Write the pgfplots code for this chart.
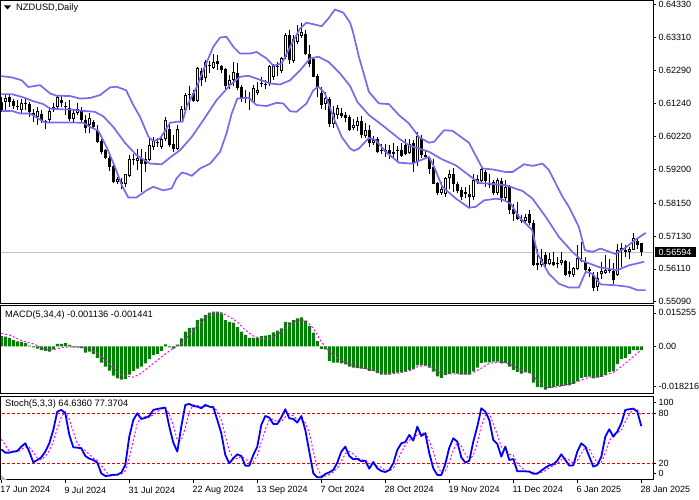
\documentclass[border=0pt]{standalone}
\usepackage{fontspec}
\setmainfont{Liberation Sans}
\usepackage{pgfplots}
\usepackage{pgfplotstable}
\pgfplotsset{compat=1.18}
\definecolor{band}{RGB}{123,104,238}
\definecolor{hist}{RGB}{0,128,0}
\definecolor{priceline}{RGB}{192,192,192}
\definecolor{level}{RGB}{225,0,0}
\definecolor{signal}{RGB}{255,0,255}
\newcommand{\chartfont}{\fontsize{9}{10}\selectfont}
\newcommand{\titlefont}{\fontsize{9.3}{10}\selectfont}

% down (black) candles: i, body bottom, body top, high, low
\pgfplotstableread{
i b t h l
0 .6104 .6130 .6146 .6099
2 .6130 .6146 .6151 .6114
3 .6117 .6132 .6140 .6109
4 .6113 .6117 .6137 .6104
7 .6097 .6123 .6130 .6083
8 .6089 .6094 .6109 .6068
10 .6071 .6092 .6104 .6063
11 .6066 .6071 .6073 .6047
15 .6125 .6135 .6151 .6114
16 .6114 .6117 .6130 .6089
17 .6078 .6112 .6135 .6071
20 .6073 .6106 .6114 .6068
21 .6049 .6075 .6089 .6034
23 .6052 .6066 .6073 .6047
24 .6006 .6042 .6057 .6001
25 .5975 .6009 .6016 .5969
26 .5957 .5980 .5985 .5951
27 .5926 .5957 .5964 .5916
28 .5881 .5930 .5938 .5878
30 .5874 .5881 .5892 .5858
33 .5948 .5951 .5969 .5933
35 .5938 .5954 .5985 .5850
36 .5936 .5951 .5975 .5912
42 .5995 .6047 .6068 .5990
43 .5982 .5998 .6026 .5975
47 .6150 .6153 .6179 .6104
48 .6133 .6156 .6166 .6130
50 .6197 .6225 .6234 .6179
52 .6241 .6244 .6256 .6220
54 .6247 .6256 .6275 .6228
55 .6228 .6241 .6244 .6220
56 .6180 .6231 .6234 .6164
59 .6173 .6220 .6251 .6166
60 .6143 .6175 .6182 .6130
61 .6140 .6146 .6166 .6125
62 .6140 .6142 .6161 .6104
65 .6185 .6189 .6208 .6175
66 .6181 .6184 .6197 .6171
69 .6239 .6242 .6254 .6210
72 .6260 .6337 .6353 .6249
76 .6280 .6340 .6353 .6275
77 .6249 .6280 .6306 .6239
78 .6208 .6262 .6270 .6206
79 .6175 .6210 .6216 .6146
80 .6120 .6158 .6175 .6109
82 .6061 .6140 .6146 .6052
85 .6086 .6094 .6112 .6081
86 .6081 .6089 .6099 .6068
87 .6042 .6083 .6089 .6040
90 .6026 .6071 .6085 .6019
92 .6001 .6044 .6057 .5990
94 .5975 .6016 .6021 .5971
95 .5978 .5980 .5999 .5969
96 .5975 .5980 .5999 .5959
97 .5967 .5980 .5995 .5951
98 .5967 .5973 .6001 .5951
100 .5961 .5980 .6001 .5959
101 .5969 .5995 .6013 .5964
103 .5940 .6003 .6011 .5912
105 .5964 .6019 .6026 .5954
106 .5959 .5964 .5980 .5954
107 .5920 .5954 .5959 .5907
108 .5876 .5926 .5951 .5874
109 .5847 .5878 .5881 .5840
113 .5876 .5907 .5923 .5850
114 .5853 .5876 .5881 .5847
115 .5835 .5855 .5866 .5824
116 .5843 .5850 .5866 .5830
117 .5835 .5843 .5871 .5804
121 .5884 .5912 .5918 .5866
122 .5874 .5876 .5905 .5861
123 .5847 .5881 .5887 .5840
125 .5830 .5884 .5892 .5819
127 .5793 .5866 .5871 .5783
128 .5781 .5798 .5812 .5760
129 .5767 .5781 .5819 .5762
130 .5760 .5764 .5778 .5754
132 .5754 .5781 .5793 .5747
133 .5622 .5754 .5762 .5619
134 .5622 .5628 .5674 .5609
136 .5626 .5653 .5664 .5617
138 .5622 .5633 .5664 .5620
139 .5626 .5628 .5648 .5614
141 .5591 .5635 .5638 .5588
142 .5594 .5604 .5633 .5586
145 .5636 .5640 .5695 .5633
146 .5607 .5633 .5648 .5605
147 .5605 .5610 .5617 .5586
148 .5553 .5591 .5602 .5543
152 .5605 .5612 .5643 .5599
153 .5576 .5605 .5628 .5563
156 .5664 .5669 .5685 .5648
159 .5685 .5698 .5705 .5674
160 .5662 .5690 .5692 .5650
}\downcandles

% up (white) candles
\pgfplotstableread{
i b t h l
1 .6130 .6143 .6151 .6099
5 .6106 .6125 .6140 .6094
6 .6123 .6127 .6140 .6104
9 .6083 .6101 .6114 .6057
12 .6075 .6101 .6114 .6065
13 .6109 .6114 .6125 .6099
14 .6114 .6145 .6151 .6109
18 .6078 .6096 .6104 .6068
19 .6094 .6109 .6125 .6089
22 .6057 .6081 .6096 .6034
29 .5881 .5889 .5897 .5876
31 .5874 .5905 .5907 .5866
32 .5900 .5951 .5964 .5897
34 .5947 .5957 .5985 .5918
37 .5949 .5995 .6013 .5947
38 .5990 .6009 .6021 .5980
39 .6001 .6006 .6019 .5990
40 .5990 .6016 .6026 .5985
41 .6013 .6075 .6083 .6009
44 .5983 .6047 .6057 .5980
45 .6068 .6109 .6117 .6068
46 .6106 .6151 .6156 .6104
49 .6133 .6236 .6239 .6130
51 .6203 .6254 .6260 .6192
53 .6236 .6254 .6280 .6231
57 .6182 .6197 .6213 .6171
58 .6197 .6223 .6254 .6179
63 .6130 .6174 .6182 .6127
64 .6156 .6168 .6192 .6151
67 .6185 .6241 .6244 .6179
68 .6206 .6241 .6249 .6197
70 .6226 .6265 .6270 .6220
71 .6268 .6339 .6344 .6262
73 .6257 .6324 .6337 .6251
74 .6316 .6342 .6368 .6311
75 .6334 .6346 .6376 .6327
81 .6123 .6142 .6161 .6104
83 .6060 .6094 .6117 .6050
84 .6089 .6112 .6120 .6078
88 .6049 .6057 .6078 .6042
89 .6054 .6071 .6083 .6040
91 .6023 .6042 .6063 .6019
93 .6001 .6011 .6023 .5995
99 .5977 .5980 .5992 .5947
102 .5971 .5999 .6016 .5967
104 .5944 .6023 .6037 .5930
110 .5847 .5858 .5881 .5840
111 .5845 .5894 .5897 .5835
112 .5892 .5907 .5918 .5858
118 .5833 .5887 .5907 .5824
119 .5881 .5889 .5902 .5876
120 .5884 .5920 .5923 .5881
124 .5847 .5887 .5892 .5840
126 .5832 .5866 .5887 .5819
131 .5760 .5773 .5783 .5757
135 .5624 .5643 .5674 .5617
137 .5626 .5643 .5659 .5622
140 .5628 .5638 .5664 .5622
143 .5591 .5614 .5617 .5586
144 .5610 .5646 .5685 .5607
149 .5555 .5584 .5602 .5543
150 .5594 .5605 .5633 .5581
151 .5599 .5609 .5653 .5594
154 .5591 .5669 .5688 .5588
155 .5669 .5677 .5690 .5617
157 .5664 .5674 .5679 .5643
158 .5671 .5708 .5724 .5669
}\upcandles

\pgfplotstableread{
i v
0 .0047
1 .0044
2 .0038
3 .0029
4 .0023
5 .0020
6 .0014
7 .0003
8 -.0005
9 -.0011
10 -.0017
11 -.0021
12 -.0024
13 -.0014
14 .0011
15 .0011
16 .0015
17 .0006
18 -.0005
19 -.0005
20 -.0008
21 -.0029
22 -.0024
23 -.0035
24 -.0053
25 -.0074
26 -.0093
27 -.0111
28 -.0134
29 -.0146
30 -.0152
31 -.0149
32 -.0129
33 -.0112
34 -.0102
35 -.0093
36 -.0078
37 -.0059
38 -.0040
39 -.0035
40 -.0021
41 .0009
42 -.0005
43 -.0011
44 .0008
45 .0036
46 .0067
47 .0084
48 .0085
49 .0120
50 .0128
51 .0143
52 .0154
53 .0158
54 .0158
55 .0150
56 .0120
57 .0112
58 .0108
59 .0088
60 .0067
61 .0052
62 .0038
63 .0038
64 .0040
65 .0047
66 .0049
67 .0052
68 .0064
69 .0071
70 .0082
71 .0111
72 .0109
73 .0120
74 .0128
75 .0132
76 .0117
77 .0093
78 .0062
79 .0024
80 -.0012
81 -.0014
82 -.0067
83 -.0074
84 -.0074
85 -.0078
86 -.0082
87 -.0093
88 -.0097
89 -.0100
90 -.0102
91 -.0103
92 -.0112
93 -.0112
94 -.0123
95 -.0129
96 -.0129
97 -.0129
98 -.0123
99 -.0120
100 -.0119
101 -.0116
102 -.0108
103 -.0105
104 -.0087
105 -.0087
106 -.0088
107 -.0097
108 -.0116
109 -.0137
110 -.0144
111 -.0132
112 -.0126
113 -.0123
114 -.0125
115 -.0129
116 -.0129
117 -.0129
118 -.0114
119 -.0097
120 -.0076
121 -.0073
122 -.0073
123 -.0070
124 -.0070
125 -.0078
126 -.0076
127 -.0093
128 -.0108
129 -.0117
130 -.0125
131 -.0119
132 -.0123
133 -.0166
134 -.0185
135 -.0188
136 -.0198
137 -.0190
138 -.0185
139 -.0181
140 -.0181
141 -.0179
142 -.0179
143 -.0172
144 -.0160
145 -.0144
146 -.0140
147 -.0138
148 -.0147
149 -.0143
150 -.0140
151 -.0131
152 -.0117
153 -.0114
154 -.0081
155 -.0058
156 -.0053
157 -.0035
158 -.0018
159 -.0017
160 -.0017
}\macdhist

% stochastic: i, main, signal
\pgfplotstableread{
i v s
0 36.8 48.8
1 32.8 42
2 32.8 34.1
3 34 33.2
4 34.8 33.9
5 40 36.3
6 44 39.6
7 34 39.3
8 21.2 33.1
9 24 26.4
10 27.2 24.1
11 34 28.4
12 44 35.1
13 60 46
14 82 62
15 84 75.3
16 80 82
17 54 72.7
18 39.2 57.7
19 38.8 44
20 38 38.7
21 28.8 35.2
22 25.6 30.8
23 24 26.1
24 20.8 23.5
25 8 17.6
26 4.8 11.2
27 5.2 6
28 6.4 5.5
29 6.4 6
30 8.8 7.2
31 18 11.1
32 52 26.3
33 72 47.3
34 80 68
35 73.2 75.1
36 74.4 75.9
37 76.8 74.8
38 84 78.4
39 85.2 82
40 86 85.1
41 86.8 86
42 64 78.9
43 44.8 65.2
44 34 47.6
45 64 47.6
46 90 62.7
47 91.2 81.7
48 88.8 90
49 88 89.3
50 86 87.6
51 90 88
52 88 88
53 87.2 88.4
54 72 82.4
55 56 71.7
56 30 52.7
57 20 35.3
58 26 25.3
59 30.8 25.6
60 28.8 28.5
61 17.2 25.6
62 17.2 21.1
63 30 21.5
64 40 29.1
65 66 45.3
66 76.8 60.9
67 74.8 72.5
68 67.2 72.9
69 67.2 69.7
70 75.2 69.9
71 84.8 75.7
72 74 78
73 73.2 77.3
74 68.8 72
75 76.8 72.9
76 60 68.5
77 34 56.9
78 8 34
79 3.2 15.1
80 3.2 4.8
81 7.2 4.5
82 9.2 6.5
83 12 9.5
84 20.8 14
85 34 22.3
86 40 31.6
87 28.8 34.3
88 24.8 31.2
89 25.6 26.4
90 22.4 24.3
91 23.2 23.7
92 13.6 19.7
93 21.6 19.5
94 14 16.4
95 10.8 15.5
96 9.6 11.5
97 12 10.8
98 20 13.9
99 36 22.7
100 44 33.3
101 45.6 41.9
102 54 47.9
103 47.2 48.9
104 64 55.1
105 52.8 54.7
106 56 57.6
107 32 46.9
108 14 34
109 6 17.3
110 6 8.7
111 19.2 10.4
112 38.8 21.3
113 50 36
114 46 44.9
115 27.2 41.1
116 20.8 31.3
117 23.2 23.7
118 46 30
119 64 44.4
120 86 65.3
121 82 77.3
122 72 80
123 48 67.3
124 43.2 54.4
125 28 39.7
126 40 37.1
127 24 30.7
128 25.2 29.7
129 10.4 19.9
130 10.4 15.3
131 10.4 10.4
132 10 10.3
133 7.6 9.3
134 7.6 8.4
135 11.2 8.8
136 14.8 11.2
137 17.6 14.5
138 18.8 17.1
139 23.2 19.9
140 30.8 24.3
141 24 26
142 17.2 24
143 17.6 19.6
144 34 22.9
145 44 31.9
146 40 39.3
147 28 37.3
148 16 28
149 18 20.7
150 28 20.7
151 52 32.7
152 60.8 46.9
153 52 54.9
154 58 56.9
155 68 59.3
156 84 70
157 84.8 78.9
158 85.6 84.8
159 82 84.1
160 64.6 77.4
}\stochmain

\pgfplotsset{
  panel/.style={
    scale only axis, width=652pt,
    xmin=-0.075, xmax=162.925,
    axis line style={line width=1pt,black},
    tick style={black,line width=0.7pt},
    tick align=outside, major tick length=3pt,
    xtick pos=bottom, ytick pos=right,
    yticklabel pos=right,
    tick label style={font=\chartfont},
    yticklabel style={anchor=west,inner sep=0pt,xshift=2.5pt},
    xticklabel style={anchor=north west,inner sep=0pt,xshift=-1pt,yshift=-3.5pt},
    scaled y ticks=false,
  },
  wick/.style={draw=none,mark=none,forget plot,
    error bars/.cd, y dir=plus, y explicit, error mark=none,
    error bar style={line width=1pt,black,solid}},
  body/.style={draw=none,mark=none,forget plot,
    error bars/.cd, y dir=plus, y explicit, error mark=none,
    error bar style={line width=3pt,black,solid}},
  hollow/.style={draw=none,mark=none,forget plot,
    error bars/.cd, y dir=plus, y explicit, error mark=none,
    error bar style={line width=1pt,white,solid}},
  bandline/.style={band,line width=1.7pt,mark=none,line join=round,forget plot},
}

\begin{document}
\begin{tikzpicture}[x=1pt,y=1pt]
\path[use as bounding box] (0,0) rectangle (699,500);

% ---------- price panel
\begin{axis}[panel, at={(1pt,196pt)}, anchor=south west, height=303pt,
  ymin=0.55019, ymax=0.64433, xtick=\empty,
  ytick={0.6433,0.6331,0.6229,0.6124,0.6022,0.5920,0.5815,0.5713,0.5611,0.5509},
  yticklabels={0.64330,0.63310,0.62290,0.61240,0.60220,0.59200,0.58150,0.57130,0.56110,0.55090}]
\addplot[priceline,line width=0.8pt,forget plot] coordinates {(-1,0.5662)(163,0.5662)};
\addplot[wick] table[x=i,y=l,y error expr={\thisrow{h}-\thisrow{l}}] {\downcandles};
\addplot[wick] table[x=i,y=l,y error expr={\thisrow{h}-\thisrow{l}}] {\upcandles};
\addplot[body] table[x=i,y=b,y error expr={\thisrow{t}-\thisrow{b}}] {\downcandles};
\addplot[body] table[x=i,y=b,y error expr={\thisrow{t}-\thisrow{b}}] {\upcandles};
\addplot[hollow] table[x=i,y expr={\thisrow{b}+0.00031},y error expr={max(\thisrow{t}-\thisrow{b}-0.00062,0)}] {\upcandles};
% upper band
\addplot[bandline] coordinates {(0,.6210)(2.6,.6206)(5.1,.6197)(6.75,.6176)(9.7,.6182)(12.2,.6156)(13.8,.6149)(17.2,.6148)(19.7,.6140)(22.2,.6142)(24.7,.6151)(27.2,.6175)(28.8,.6177)(31.2,.6166)(33,.6120)(34.7,.6083)(36.8,.6021)(38,.6008)(39.7,.6016)(42.2,.6065)(43.8,.6068)(45.3,.6068)(46.3,.6114)(48.8,.6175)(50.5,.6228)(53,.6301)(54.7,.6330)(56.3,.6332)(58,.6301)(59.7,.6280)(62.2,.6280)(63.8,.6285)(66.3,.6265)(68,.6242)(70.1,.6249)(72.2,.6301)(74.7,.6358)(76.3,.6376)(80.1,.6365)(81.8,.6389)(83.4,.6417)(85.5,.6407)(87.2,.6376)(87.9,.6348)(89.4,.6270)(91.9,.6161)(94.4,.6125)(96.9,.6123)(99.4,.6089)(101.9,.6063)(104.4,.6021)(106.9,.6003)(108.2,.6006)(110.7,.6042)(112.8,.6040)(116.9,.6003)(120.3,.5923)(122.8,.5920)(126.1,.5912)(127.8,.5912)(130.7,.5936)(132.8,.5931)(135.3,.5938)(136.9,.5918)(140.3,.5835)(141.9,.5804)(144.4,.5741)(145.9,.5669)(147.8,.5664)(149.8,.5674)(153.6,.5657)(155.7,.5674)(158.6,.5702)(161.1,.5723)};
% middle band
\addplot[bandline] coordinates {(0,.6154)(2.6,.6154)(5.5,.6144)(8,.6132)(10.5,.6123)(12.2,.6109)(14.3,.6107)(17.2,.6106)(20.5,.6102)(23.4,.6099)(25.5,.6085)(28,.6052)(30.9,.6003)(33.8,.5964)(37.2,.5938)(40.1,.5936)(42.2,.5957)(44.7,.5980)(47.6,.6021)(50.5,.6073)(53.8,.6135)(57.2,.6182)(59.7,.6208)(61.8,.6211)(64.3,.6200)(67.2,.6187)(69.7,.6184)(72.2,.6197)(74.7,.6228)(77.2,.6265)(79.3,.6270)(81.8,.6254)(84.7,.6218)(87.2,.6179)(89,.6130)(91.9,.6089)(95.3,.6057)(99.4,.6016)(101.9,.5995)(106.9,.5975)(110.25,.5951)(113.6,.5933)(116.9,.5902)(119.4,.5878)(123.6,.5874)(126.1,.5871)(130.3,.5853)(132.75,.5830)(136.1,.5773)(139.4,.5710)(142.75,.5664)(145.25,.5636)(149.8,.5615)(154,.5607)(156.9,.5622)(160.7,.5633)};
% lower band
\addplot[bandline] coordinates {(0,.6101)(2.6,.6102)(4.7,.6094)(7.2,.6094)(9.25,.6078)(10.9,.6066)(16.3,.6066)(20.5,.6065)(22.2,.6052)(24.25,.6040)(26.3,.5990)(28.4,.5928)(30.1,.5871)(31.75,.5833)(33.8,.5833)(36.3,.5855)(38,.5866)(40.5,.5855)(42.6,.5861)(43.8,.5892)(45.1,.5910)(46.3,.5907)(47.6,.5900)(49.7,.5923)(52.2,.5938)(54.7,.5975)(56.3,.6032)(57.6,.6094)(59,.6140)(61.8,.6143)(63.8,.6120)(66.3,.6117)(68.8,.6127)(70.5,.6125)(72.2,.6101)(73.8,.6099)(76.3,.6125)(78,.6166)(79.3,.6177)(80.9,.6156)(83,.6083)(85.1,.6021)(87.2,.5985)(88.2,.5978)(89.4,.5985)(91.9,.6018)(93.6,.6011)(96.1,.5975)(99.4,.5941)(102.75,.5938)(106.9,.5959)(108.2,.5928)(110.25,.5866)(113.6,.5830)(116.9,.5801)(118.6,.5804)(120.7,.5824)(123.6,.5829)(125.25,.5827)(127.3,.5814)(129.4,.5773)(132.75,.5731)(134,.5659)(136.9,.5596)(139.4,.5565)(141.9,.5553)(144.4,.5553)(146.1,.5602)(147.75,.5596)(149.8,.5563)(153.6,.5560)(156.9,.5555)(159,.5545)(161.1,.5545)};
\end{axis}

% ---------- MACD panel
\begin{axis}[panel, at={(1pt,106.7pt)}, anchor=south west, height=87.3pt,
  ymin=-0.02146, ymax=0.0184, xtick=\empty,
  ytick={0.015255,0,-0.018216}, yticklabels={0.015255,0.00,-0.018216}]
\addplot[ybar,bar width=3pt,bar shift=0pt,fill=hist,draw=none,forget plot] table[x=i,y=v] {\macdhist};
\addplot[signal,line width=1pt,dash pattern=on 2pt off 2pt,forget plot] coordinates {(0,.0059)(2,.0052)(5,.0026)(8,.0011)(11,-.0014)(13,-.0017)(15,-.0005)(18,-.0002)(20,-.0005)(22,-.0011)(24,-.0032)(26,-.0062)(28,-.0100)(30,-.0131)(33,-.0141)(35,-.0123)(38,-.0078)(41,-.0035)(43,-.0009)(45,.0011)(47,.0052)(49,.0093)(51,.0128)(53,.0154)(55,.0154)(57,.0135)(59,.0112)(61,.0074)(63,.0047)(65,.0035)(67,.0036)(69,.0052)(71,.0082)(74,.0120)(76,.0120)(78,.0082)(80,.0021)(82,-.0024)(84,-.0055)(87,-.0082)(90,-.0097)(93,-.0111)(96,-.0126)(99,-.0123)(102,-.0112)(104,-.0093)(106,-.0088)(108,-.0100)(110,-.0126)(113,-.0126)(116,-.0126)(118,-.0120)(120,-.0100)(122,-.0078)(125,-.0071)(127,-.0081)(130,-.0108)(132,-.0120)(134,-.0154)(136,-.0187)(138,-.0188)(141,-.0178)(144,-.0161)(147,-.0141)(150,-.0138)(153,-.0120)(155,-.0093)(158,-.0047)(160,-.0016)};
\end{axis}

% ---------- Stochastic panel
\begin{axis}[panel, at={(1pt,20pt)}, anchor=south west, height=83.4pt,
  ymin=0, ymax=100,
  ytick={93,80,20,7.6}, yticklabels={100,80,20,0},
  xtick={0,16,32,48,64,80,96,112,128,144,160},
  xticklabels={17 Jun 2024,9 Jul 2024,31 Jul 2024,22 Aug 2024,13 Sep 2024,7 Oct 2024,28 Oct 2024,19 Nov 2024,11 Dec 2024,6 Jan 2025,28 Jan 2025},
  clip=true]
\addplot[level,line width=1pt,dash pattern=on 3pt off 2pt,forget plot] coordinates {(-1,80)(163,80)};
\addplot[level,line width=1pt,dash pattern=on 3pt off 2pt,forget plot] coordinates {(-1,20)(163,20)};
\addplot[signal,line width=1pt,dash pattern=on 2pt off 2pt,forget plot] table[x=i,y=s] {\stochmain};
\addplot[blue,line width=1.8pt,line join=round,forget plot] table[x=i,y=v] {\stochmain};
\end{axis}

% ---------- labels
\fill[black!25] (1,20) -- (1,25) -- (7,20) -- cycle;
\fill[black] (4,494.5) -- (11,494.5) -- (7.5,490.5) -- cycle;
\node[anchor=west,inner sep=0pt,font=\titlefont] at (16,491.5) {NZDUSD,Daily};
\node[anchor=west,inner sep=0pt,font=\titlefont] at (5,184.5) {MACD(5,34,4) -0.001136 -0.001441};
\node[anchor=west,inner sep=0pt,font=\titlefont] at (5,95.5) {Stoch(5,3,3) 64.6360 77.3704};
\node[fill=black,text=white,inner sep=0pt,minimum width=41pt,minimum height=10pt,font=\chartfont] at (675,247.5) {0.56594};
\end{tikzpicture}
\end{document}
